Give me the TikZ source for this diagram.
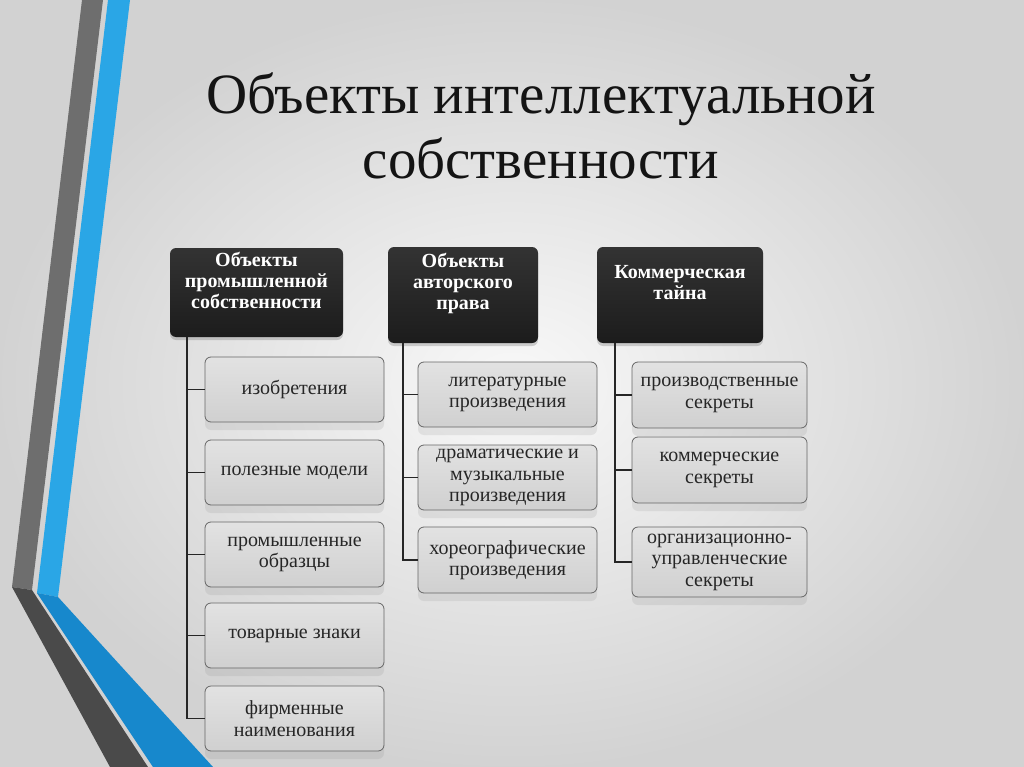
\documentclass[tikz,border=0pt]{standalone}
\usepackage{fontspec}
\setmainfont{Liberation Serif}
\usetikzlibrary{positioning,calc,shadows}
\definecolor{bandgray}{HTML}{6E6E6E}
\definecolor{banddark}{HTML}{4A4A4A}
\definecolor{bandblue}{HTML}{2AA6E6}
\definecolor{banddeep}{HTML}{1788CC}
\definecolor{headtop}{HTML}{333333}
\definecolor{headbot}{HTML}{1C1C1C}
\definecolor{itemtop}{HTML}{E2E2E2}
\definecolor{itembot}{HTML}{D0D0D0}

\begin{document}
\begin{tikzpicture}[x=1pt,y=-1pt,
  head/.style={rounded corners=6pt,top color=headtop,bottom color=headbot,
               inner sep=0pt,
               drop shadow={shadow xshift=0pt,shadow yshift=-3pt,opacity=0.35}},
  headtxt/.style={font=\fontsize{20}{21}\selectfont\bfseries,text=white,
                  align=center,inner sep=0pt},
  item/.style={rounded corners=6pt,draw=black!60,line width=0.8pt,
               top color=itemtop,bottom color=itembot,inner sep=0pt,
               minimum height=65pt,text=black!85,align=center,
               font=\fontsize{20}{21.5}\selectfont,
               drop shadow={shadow xshift=0pt,shadow yshift=-8pt,opacity=0.15}},
  link/.style={black!85,line width=1.4pt}
]
\useasboundingbox (0,0) rectangle (1024,767);

% ---- Background and side bands -------------------------------
\fill[inner color=gray!5,outer color=gray!35] (0,0) rectangle (1024,767);
\fill[bandgray] (82,0) -- (103,0) -- (32,590) -- (12,587) -- cycle;
\fill[banddark] (12,587) -- (32,590) -- (148,767) -- (110,767) -- cycle;
\fill[bandblue] (108,0) -- (130,0) -- (58,597) -- (37,593) -- cycle;
\fill[banddeep] (37,593) -- (58,597) -- (213,767) -- (153,767) -- cycle;

% ---- Title ---------------------------------------------------
\node[font=\fontsize{57}{65}\selectfont,align=center,text=black!92] (title)
  at (541,126) {Объекты интеллектуальной\\собственности};

% ---- Column 1 ------------------------------------------------
\node[head,minimum width=173pt,minimum height=89pt] (h1) at (256.5,292.5) {};
\node[headtxt] (h1t) at ([yshift=12pt]h1.center)
  {Объекты\\промышленной\\собственности};
\node[item,minimum width=179pt] (a1) at (294.5,389.5) {изобретения};
\node[item,minimum width=179pt] (a2) at (294.5,472.5) {полезные модели};
\node[item,minimum width=179pt] (a3) at (294.5,554.5) {промышленные\\образцы};
\node[item,minimum width=179pt] (a4) at (294.5,635.5) {товарные знаки};
\node[item,minimum width=179pt] (a5) at (294.5,718.5) {фирменные\\наименования};

% ---- Column 2 ------------------------------------------------
\node[head,minimum width=150pt,minimum height=96pt] (h2) at (463,295) {};
\node[headtxt] (h2t) at ([yshift=12pt]h2.center)
  {Объекты\\авторского\\права};
\node[item,minimum width=179pt] (b1) at (507.5,394.5) {литературные\\произведения};
\node[item,minimum width=179pt] (b2) at (507.5,477.5) {драматические и\\музыкальные\\произведения};
\node[item,minimum width=179pt,minimum height=66pt] (b3) at (507.5,560)
  {хореографические\\произведения};

% ---- Column 3 ------------------------------------------------
\node[head,minimum width=166pt,minimum height=96pt] (h3) at (680,295) {};
\node[headtxt] (h3t) at ([yshift=12pt]h3.center)
  {Коммерческая\\тайна};
\node[item,minimum width=175pt,minimum height=66pt] (c1) at (719.5,395)
  {производственные\\секреты};
\node[item,minimum width=175pt,minimum height=66pt] (c2) at (719.5,470)
  {коммерческие\\секреты};
\node[item,minimum width=175pt,minimum height=70pt] (c3) at (719.5,562)
  {организационно-\\управленческие\\секреты};

% Connectors
\coordinate (t1) at ([xshift=17pt]h1.south west);
\coordinate (t2) at ([xshift=15pt]h2.south west);
\coordinate (t3) at ([xshift=18pt]h3.south west);
\foreach \n in {a1,a2,a3,a4,a5} \draw[link] (t1) |- (\n.west);
\foreach \n in {b1,b2,b3} \draw[link] (t2) |- (\n.west);
\foreach \n in {c1,c2,c3} \draw[link] (t3) |- (\n.west);

\end{tikzpicture}
\end{document}
